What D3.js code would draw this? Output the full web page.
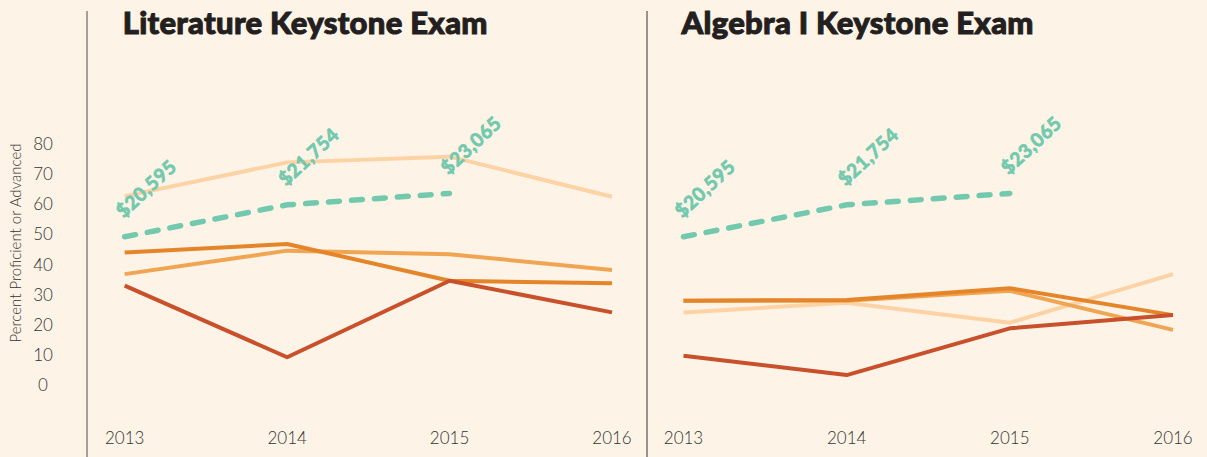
<!DOCTYPE html>
<html lang="en">
<head>
    <meta charset="UTF-8">
    <title>Keystone Exams</title>
    <script src="https://d3js.org/d3.v7.min.js"></script>
    <style>
        body { margin: 0; background: #fdf3e6; }
        svg { display: block; font-family: Lato, sans-serif; }
    </style>
</head>
<body>
<div id="chart"></div>
<script>
    // Data
    const years = [2013, 2014, 2015, 2016];
    const yTicks = [0, 10, 20, 30, 40, 50, 60, 70, 80];
    const spendLabels = ["$20,595", "$21,754", "$23,065"];
    const spending = [49.2, 59.8, 63.6];

    const litPale = [62.7, 73.9, 75.8, 62.5];
    const litLight = [36.8, 44.6, 43.4, 38.2];
    const litOrange = [44.0, 46.8, 34.6, 33.8];
    const litDark = [33.0, 9.2, 34.6, 24.1];

    const algPale = [24.1, 27.3, 20.7, 36.8];
    const algLight = [28.0, 28.0, 31.3, 18.3];
    const algOrange = [28.0, 28.2, 32.1, 23.2];
    const algDark = [9.7, 3.3, 18.8, 23.2];

    const colors = { pale: "#fdd3a5", light: "#f0a552", orange: "#e5852a", dark: "#c8502a", green: "#72c9ae" };

    const W = 1207, H = 457;
    const svg = d3.select("#chart").append("svg")
        .attr("width", W)
        .attr("height", H);

    svg.append("rect").attr("width", W).attr("height", H).attr("fill", "#fdf3e6");

    const y = d3.scaleLinear().domain([0, 80]).range([385, 144]);

    // y axis labels
    svg.append("g")
        .selectAll("text")
        .data(yTicks)
        .join("text")
        .attr("x", 43)
        .attr("y", d => y(d) + 6)
        .attr("text-anchor", "middle")
        .attr("font-size", 17)
        .attr("font-weight", 300)
        .attr("fill", "#333")
        .text(d => d);

    svg.append("text")
        .attr("transform", "translate(21,243) rotate(-90)")
        .attr("text-anchor", "middle")
        .attr("font-size", 15)
        .attr("font-weight", 300)
        .attr("fill", "#333")
        .text("Percent Proficient or Advanced");

    // separators
    svg.append("line").attr("x1", 87).attr("x2", 87).attr("y1", 11).attr("y2", H)
        .attr("stroke", "#8a8580").attr("stroke-width", 1.5);
    svg.append("line").attr("x1", 647).attr("x2", 647).attr("y1", 11).attr("y2", H)
        .attr("stroke", "#333").attr("stroke-width", 1);

    const panels = [
        { title: "Literature Keystone Exam", x0: 124.7, x1: 612, series: [litPale, litLight, litOrange, litDark] },
        { title: "Algebra I Keystone Exam", x0: 683.5, x1: 1173, series: [algPale, algLight, algOrange, algDark] }
    ];
    const seriesColors = [colors.pale, colors.light, colors.orange, colors.dark];

    panels.forEach(p => {
        const x = d3.scalePoint().domain(years).range([p.x0, p.x1]);
        const g = svg.append("g");

        g.append("text")
            .attr("x", p.x0 - 2)
            .attr("y", 34)
            .attr("font-size", 31)
            .attr("font-weight", 900)
            .attr("fill", "#231f20")
            .attr("stroke", "#231f20")
            .attr("stroke-width", 1)
            .attr("letter-spacing", 0.3)
            .text(p.title);

        // year labels
        g.selectAll(".year")
            .data(years)
            .join("text")
            .attr("x", d => x(d))
            .attr("y", 444)
            .attr("text-anchor", "middle")
            .attr("font-size", 17)
            .attr("font-weight", 300)
            .attr("fill", "#333")
            .text(d => d);

        const line = d3.line()
            .x((d, i) => x(years[i]))
            .y(d => y(d));

        p.series.forEach((s, i) => {
            g.append("path")
                .datum(s)
                .attr("fill", "none")
                .attr("stroke", seriesColors[i])
                .attr("stroke-width", 4)
                .attr("stroke-linejoin", "round")
                .attr("d", line);
        });

        g.append("path")
            .datum(spending)
            .attr("fill", "none")
            .attr("stroke", colors.green)
            .attr("stroke-width", 5.5)
            .attr("stroke-linecap", "round")
            .attr("stroke-dasharray", "11,12")
            .attr("d", line);

        g.selectAll(".spend")
            .data(spending)
            .join("text")
            .attr("transform", (d, i) => `translate(${x(years[i]) - 1},${y(d) - 18}) rotate(-43)`)
            .attr("font-size", 19)
            .attr("font-weight", 700)
            .attr("letter-spacing", 0.5)
            .attr("fill", colors.green)
            .attr("stroke", colors.green)
            .attr("stroke-width", 0.8)
            .text((d, i) => spendLabels[i]);
    });
</script>
</body>
</html>
